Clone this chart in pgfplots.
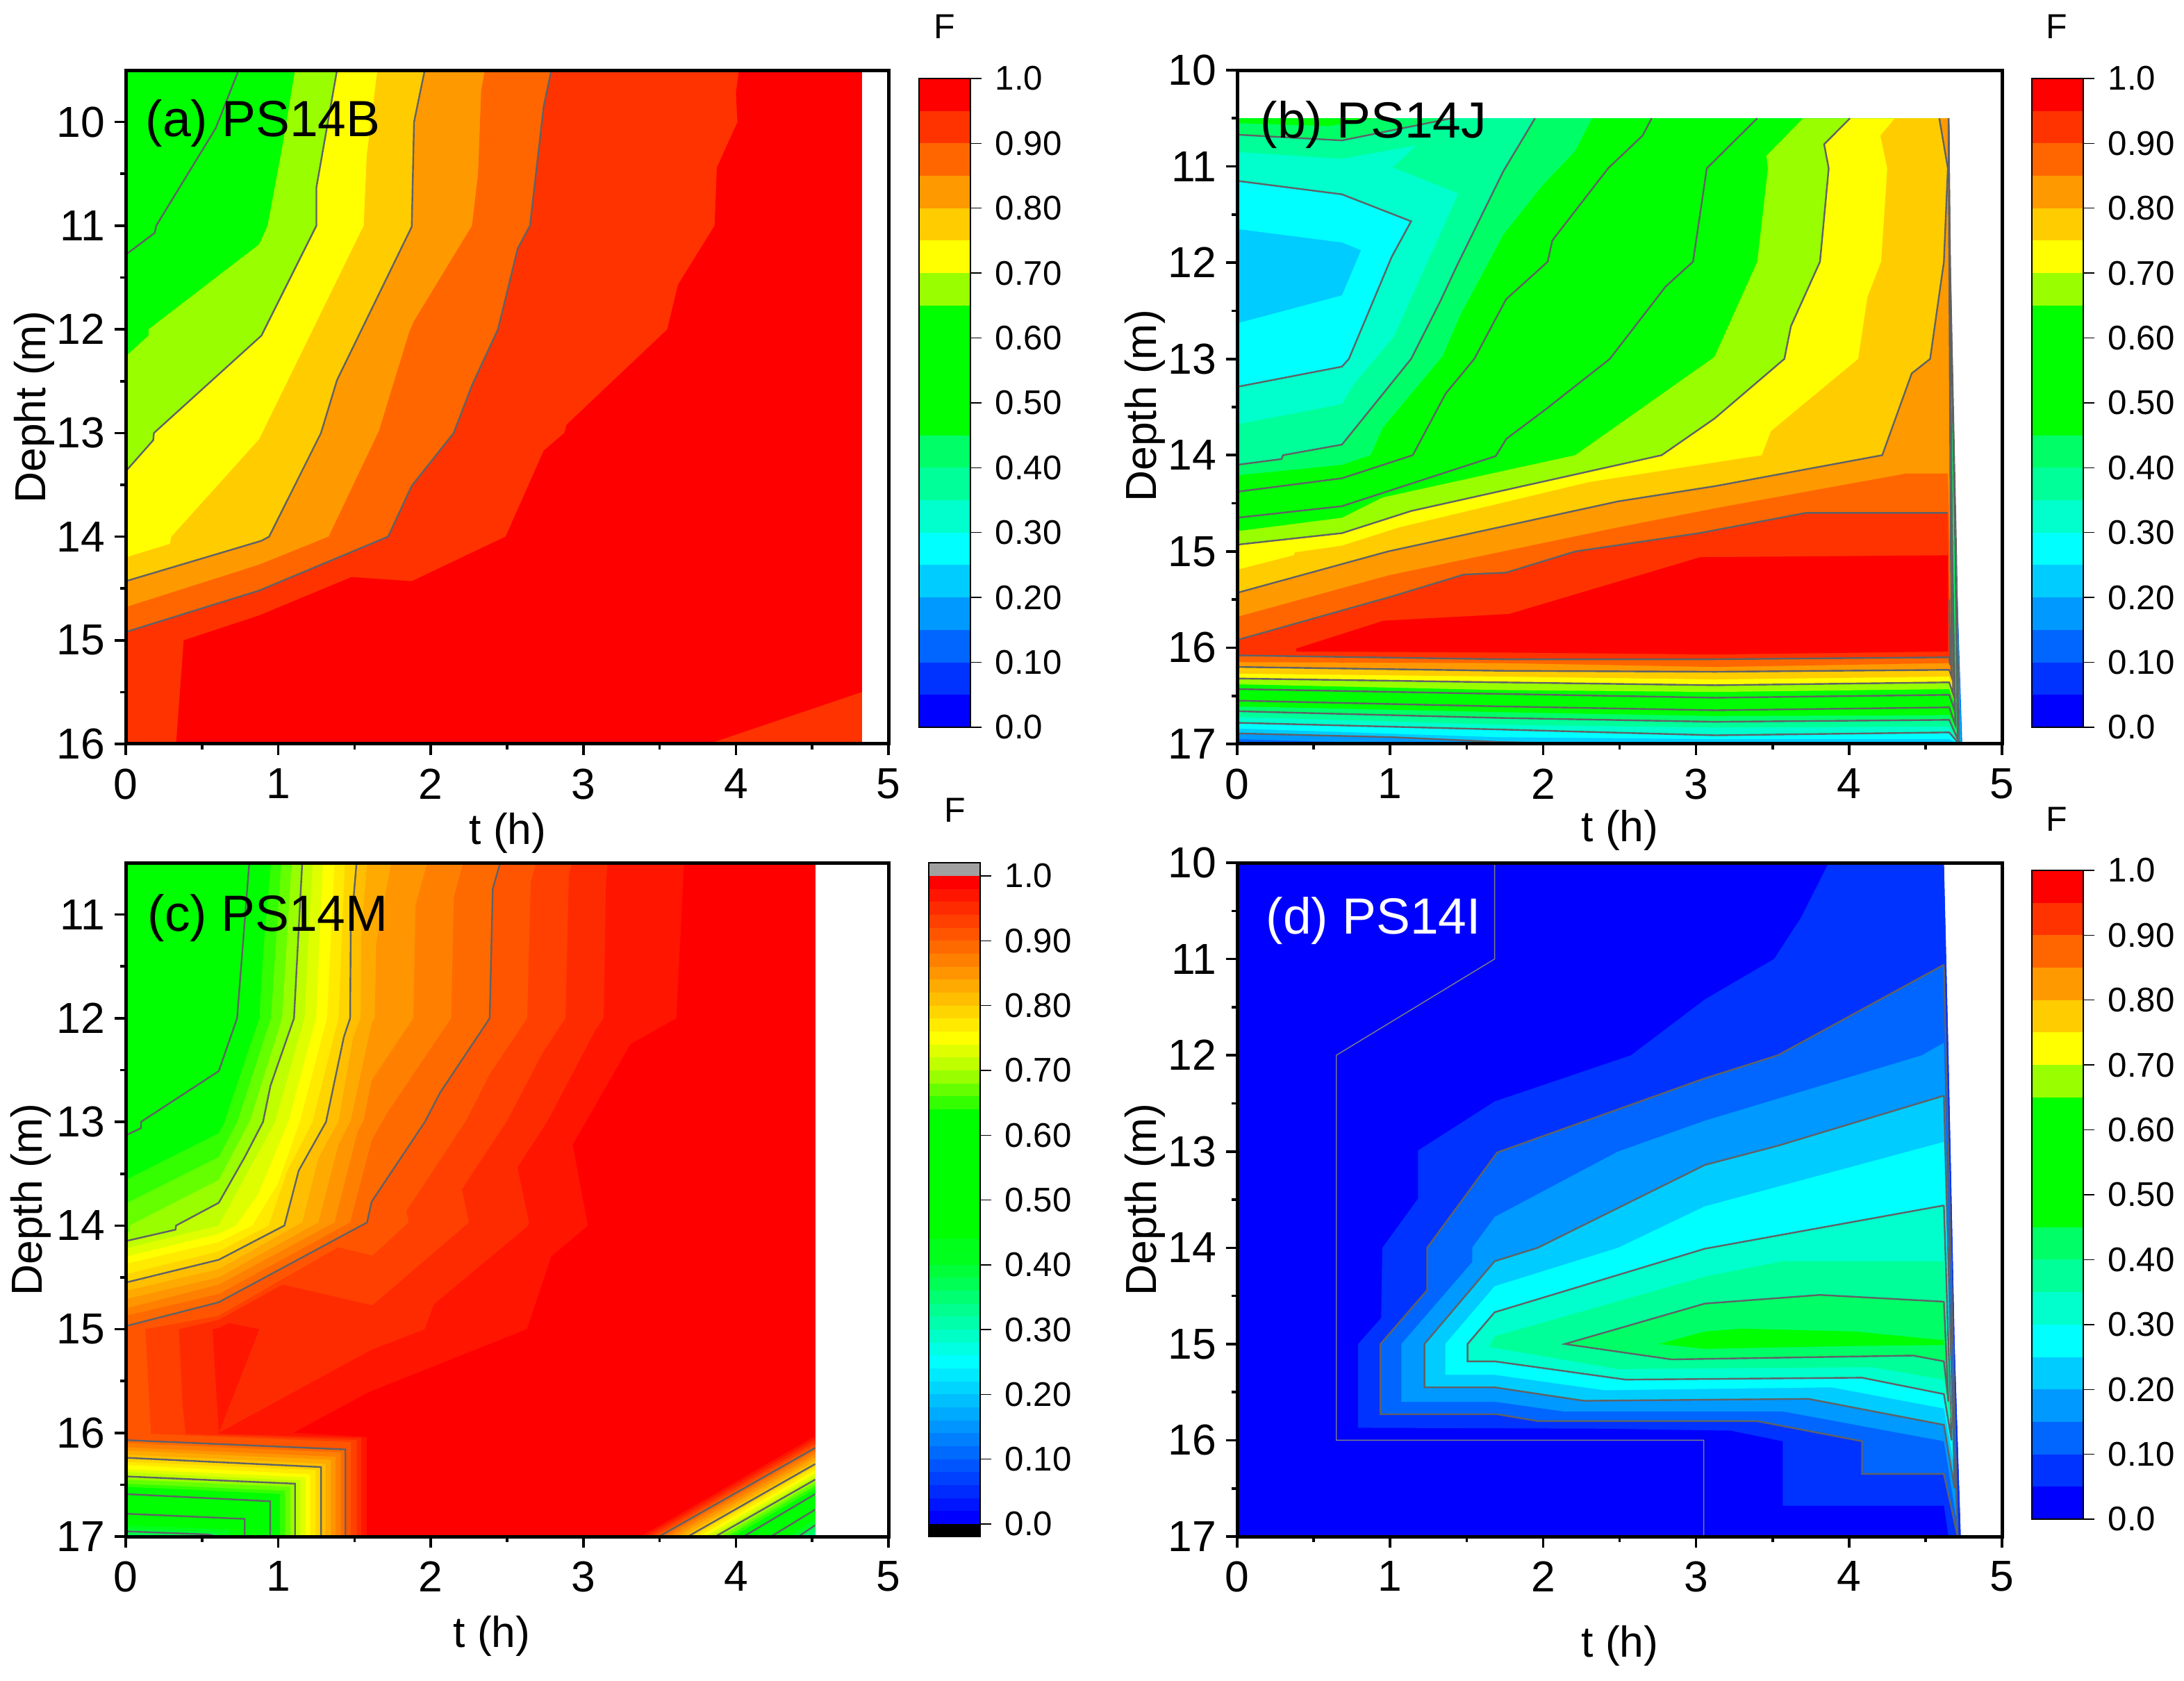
\documentclass[border=0pt]{standalone}
\usepackage{fontspec}
\setmainfont{Liberation Sans}
\usepackage{pgfplots}
\pgfplotsset{compat=1.18}
\def\dc#1{\definecolor{c#1}{HTML}{#1}}
\dc{0000FF}\dc{0015FF}\dc{002BFF}\dc{0033FF}\dc{0040FF}\dc{0055FF}\dc{0066FF}\dc{006AFF}\dc{0080FF}\dc{0095FF}\dc{0099FF}\dc{00AAFF}\dc{00BFFF}\dc{00CCFF}\dc{00D5FF}\dc{00EAFF}\dc{00FFFF}
\dc{00FFE3}\dc{00FFC6}\dc{00FFCC}\dc{00FFAA}\dc{00FF99}\dc{00FF8E}\dc{00FF80}\dc{00FF71}\dc{00FF66}\dc{00FF55}\dc{00FF4D}\dc{00FF39}\dc{00FF33}\dc{00FF1C}\dc{00FF1A}\dc{00FF00}
\dc{33FF00}\dc{66FF00}\dc{99FF00}\dc{BFFF00}\dc{DFFF00}\dc{FFFF00}\dc{FFEA00}\dc{FFD500}\dc{FFCC00}\dc{FFBF00}\dc{FFAA00}\dc{FF9900}\dc{FF9500}\dc{FF8000}\dc{FF6A00}\dc{FF6600}\dc{FF5500}\dc{FF4000}\dc{FF3300}\dc{FF2B00}\dc{FF1500}\dc{FF0000}\dc{A0A0A0}\dc{000000}
\definecolor{cline}{HTML}{606266}
\newcommand{\fs}[1]{\fontsize{#1}{#1}\selectfont}
% fill helpers
\newcommand{\levN}[2]{\addplot[fill=c#1,draw=none] coordinates {#2} -- cycle;}
\newcommand{\cl}[1]{\addplot[cline,line width=0.6pt] coordinates {#1};}
\newcommand{\levA}[3]{\addplot[fill=c#1,draw=none] coordinates {#2 #3} -- cycle;\cl{#2}}
\newcommand{\levT}[4]{\addplot[fill=c#1,draw=none] coordinates {#2 #3 #4} -- cycle;\cl{#2}\cl{#4}}
\newcommand{\band}[2]{\addplot[fill=c#2,draw=none] coordinates {(0,#1)(1,#1)(1,1.03)(0,1.03)} -- cycle;}
\newcommand{\stdbands}{\band{0}{0000FF}\band{0.05}{0033FF}\band{0.1}{0066FF}\band{0.15}{0099FF}\band{0.2}{00CCFF}\band{0.25}{00FFFF}\band{0.3}{00FFCC}\band{0.35}{00FF99}\band{0.4}{00FF66}\band{0.45}{00FF00}\band{0.65}{99FF00}\band{0.7}{FFFF00}\band{0.75}{FFCC00}\band{0.8}{FF9900}\band{0.85}{FF6600}\band{0.9}{FF3300}\band{0.95}{FF0000}}
\pgfplotsset{
 mainax/.style={scale only axis,width=274.5pt,height=242.5pt,xmin=0,xmax=5,y dir=reverse,
  xtick={0,1,2,3,4,5},minor x tick num=1,minor y tick num=1,xtick pos=bottom,ytick pos=left,tick align=outside,
  major tick length=3.9pt,minor tick length=1.9pt,every tick/.style={black,line width=0.9pt},
  axis line style={line width=1.25pt},axis on top=true,no markers,anchor=south west,
  /pgf/number format/assume math mode=true,
  tick label style={font=\fs{15.6}},
  xticklabel style={yshift=-1.5pt},yticklabel style={xshift=0pt}},
 barax/.style={scale only axis,width=18.5pt,anchor=south west,xmin=0,xmax=1,xtick=\empty,
  ytick={0,0.1,0.2,0.3,0.4,0.5,0.6,0.7,0.8,0.9,1},
  yticklabels={0.0,0.10,0.20,0.30,0.40,0.50,0.60,0.70,0.80,0.90,1.0},
  ytick pos=right,tick align=outside,major tick length=4pt,every tick/.style={black,line width=0.35pt},
  axis line style={line width=0.7pt},axis on top=true,no markers,
  yticklabel style={font=\fs{12.3},xshift=1.4pt,anchor=west}}
}
\begin{document}
\begin{tikzpicture}
\path[use as bounding box] (0,0) rectangle (786pt,604.75pt);
% ---------- (a)
\begin{axis}[mainax,at={({181*0.25pt},{(2419-1071)*0.25pt})},ymin=9.5,ymax=16,ytick={10,11,12,13,14,15,16}]
\levN{00FF00}{(0,9.5)(4.826,9.5)(4.826,16)(0,16)}
\cl{(0,11.28)(0.19,11.07)(0.20,11.0)(0.59,10.06)(0.74,9.5)}
\levN{99FF00}{(0,12.26)(0.15,12.06)(0.15,12.0)(0.875,11.18)(0.93,11.0)(1.03,10.21)(1.11,9.5)(4.826,9.5)(4.826,16)(0,16)}
\levA{FFFF00}{(0,13.37)(0.18,13.07)(0.185,13.0)(0.89,12.06)(1.25,11.0)(1.25,10.63)(1.385,9.5)}{(4.826,9.5)(4.826,16)(0,16)}
\levN{FFCC00}{(0,14.2)(0.29,14.07)(0.30,14.0)(0.875,13.06)(1.56,11.0)(1.58,10.32)(1.65,9.5)(4.826,9.5)(4.826,16)(0,16)}
\levA{FF9900}{(0,14.43)(0.89,14.04)(0.94,14.0)(1.28,13.0)(1.385,12.49)(1.875,11.01)(1.89,10.0)(1.96,9.5)}{(4.826,9.5)(4.826,16)(0,16)}
\levN{FF6600}{(0,14.68)(0.875,14.27)(1.33,14.0)(1.66,12.98)(1.86,12.02)(1.89,11.92)(2.27,11.0)(2.31,10.5)(2.33,9.69)(2.355,9.5)(4.826,9.5)(4.826,16)(0,16)}
\levA{FF3300}{(0,14.92)(0.875,14.52)(1.72,14.0)(1.875,13.51)(2.15,13.0)(2.27,12.54)(2.44,12.0)(2.57,11.22)(2.65,11.0)(2.74,9.85)(2.79,9.5)}{(4.826,9.5)(4.826,16)(0,16)}
\levN{FF0000}{(0.33,16)(0.38,15.0)(0.875,14.76)(1.48,14.39)(1.875,14.43)(2.49,14.0)(2.74,13.17)(2.875,13.0)(2.89,12.92)(3.55,12.0)(3.62,11.57)(3.86,11.0)(3.875,10.44)(4.01,10.0)(4.0,9.72)(4.02,9.5)(4.826,9.5)(4.826,16)}
\levN{FF3300}{(3.82,16)(4.826,15.5)(4.826,16)}
\end{axis}
% ---------- (b)
\begin{axis}[mainax,width=275.25pt,at={({1781*0.25pt},{(2419-1071)*0.25pt})},ymin=10,ymax=17,ytick={10,11,12,13,14,15,16,17}]
\levN{0066FF}{(0,10.5)(4.65,10.5)(4.66,12)(4.70,15)(4.74,17)(0,17)}
\levN{0099FF}{(0,10.5)(4.65,10.5)(4.66,12)(4.70,15)(4.735,17)(1.18,17)(0,16.95)}
\levA{00CCFF}{(0,16.89)(1.02,16.93)(1.72,16.98)(2.33,17)}{(4.73,17)(4.70,15)(4.66,12)(4.65,10.5)(0,10.5)}
\levN{00FFFF}{(0,10.5)(4.65,10.5)(4.66,12)(4.70,15)(4.725,17)(4.655,16.95)(3.125,16.95)(1.72,16.93)(0,16.84)(0,12.63)(0.685,12.34)(0.81,11.87)(0.685,11.79)(0,11.65)}
\levT{00FFCC}{(0,13.29)(0.685,13.08)(0.73,13)(1.01,11.94)(1.137,11.57)(0.685,11.29)(0,11.15)}{(0,10.5)}{(4.65,10.5)(4.66,12)(4.70,15)(4.72,17)(4.655,16.88)(3.125,16.91)(1.72,16.85)(0,16.78)}
\levN{00FF99}{(0,13.68)(0.685,13.47)(0.76,13.27)(1.024,12.77)(1.325,11.71)(1.446,11.28)(1.017,11.01)(1.175,10.78)(0.685,10.92)(0,10.85)(0,10.5)(4.65,10.5)(4.66,12)(4.70,15)(4.715,16.98)(4.655,16.82)(3.125,16.83)(1.72,16.80)(0,16.72)}
\levA{00FF66}{(0,10.67)(0.685,10.73)(1.137,10.585)(1.40,10.5)}{(0,10.5)}
\levN{00FF00}{(0,10.5)(0,10.55)(0.6,10.58)(0.9,10.5)}
\levT{00FF66}{(0,14.10)(0.29,14.04)(0.30,14)(0.685,13.89)(1.137,13)(1.325,12.41)(1.44,12.02)(1.74,11.05)(1.947,10.5)}{}{(4.65,10.5)(4.66,12)(4.695,15)(4.71,16.95)(4.655,16.75)(3.125,16.77)(1.72,16.73)(0,16.66)}
\levN{00FF00}{(0,14.21)(0.685,14.10)(0.873,14)(0.95,13.72)(1.344,12.97)(1.457,12.55)(1.74,11.71)(2.0,11.19)(2.21,10.84)(2.32,10.5)(4.65,10.5)(4.655,12)(4.68,15)(4.70,16.85)(4.655,16.70)(3.125,16.71)(1.72,16.67)(0,16.61)}
\cl{(0,14.38)(0.685,14.24)(1.148,14)(1.363,13.36)(1.55,13)(1.758,12.38)(2.03,11.99)(2.06,11.77)(2.425,11.02)(2.65,10.68)(2.71,10.5)}
\cl{(4.65,10.5)(4.655,12)(4.675,15)(4.695,16.80)(4.655,16.62)(3.125,16.65)(1.72,16.61)(0,16.55)}
\cl{(0,14.65)(0.685,14.53)(1.69,14.01)(1.76,13.83)(2.02,13.52)(2.436,13)(2.80,12.25)(2.98,11.99)(3.07,11.02)(3.40,10.5)}
\cl{(4.65,10.5)(4.655,12)(4.67,15)(4.69,16.65)(4.655,16.49)(3.125,16.52)(1.72,16.48)(0,16.43)}
\levN{99FF00}{(0,14.79)(0.685,14.65)(0.95,14.44)(1.664,14.19)(2.21,14)(3.12,12.98)(3.40,11.99)(3.47,11.02)(3.46,10.89)(3.70,10.5)(4.65,10.5)(4.655,12)(4.67,15)(4.685,16.55)(4.655,16.43)(3.125,16.46)(1.72,16.44)(0,16.38)}
\levT{FFFF00}{(0,14.93)(0.685,14.81)(1.137,14.58)(2.775,14)(3.12,13.62)(3.577,13)(3.62,12.66)(3.81,11.99)(3.867,11.02)(3.837,10.77)(4.006,10.5)}{}{(4.65,10.5)(4.655,12)(4.67,15)(4.68,16.48)(4.655,16.36)(3.125,16.39)(1.72,16.36)(0,16.32)}
\levN{FFCC00}{(0,15.19)(0.37,15.04)(0.377,15.01)(0.685,14.94)(1.06,14.75)(2.30,14.28)(3.43,14)(3.49,13.75)(4.06,13)(4.12,12.36)(4.21,11.99)(4.25,11.02)(4.205,10.68)(4.30,10.5)(4.65,10.5)(4.655,12)(4.668,15)(4.675,16.4)(4.655,16.30)(3.125,16.33)(1.72,16.30)(0,16.27)}
\levT{FF9900}{(0,15.43)(0.986,15)(2.49,14.48)(3.13,14.32)(4.217,14)(4.41,13.15)(4.53,13)(4.62,11.99)(4.646,11.02)(4.59,10.5)}{}{(4.65,10.5)(4.655,12)(4.665,15)(4.67,16.3)(4.655,16.23)(3.125,16.25)(1.72,16.24)(0,16.20)}
\levN{FF6600}{(0,15.68)(0.986,15.25)(2.49,14.75)(3.13,14.55)(4.375,14.19)(4.646,14.19)(4.66,15)(4.665,16.25)(4.655,16.16)(3.125,16.20)(1.72,16.16)(0,16.15)}
\levT{FF3300}{(0,15.92)(1.005,15.47)(1.483,15.24)(1.758,15.22)(2.21,15)(3.02,14.81)(3.716,14.6)(4.646,14.6)}{}{(4.655,15.5)(4.66,16.18)(4.655,16.10)(3.125,16.12)(1.72,16.12)(0,16.08)}
\levN{FF0000}{(0.384,16.01)(0.956,15.72)(1.777,15.65)(3.027,15.06)(4.646,15.04)(4.646,16.04)(3.125,16.07)(1.72,16.05)(0.384,16.04)}
\end{axis}
% ---------- (c)
\begin{axis}[mainax,at={({181*0.25pt},{(2419-2212)*0.25pt})},ymin=10.5,ymax=17,ytick={11,12,13,14,15,16,17}]
\levN{00FF00}{(0,10.5)(4.52,10.5)(4.52,17)(0,17)}
\cl{(0,13.13)(0.1,13.06)(0.1,13)(0.61,12.51)(0.73,12)(0.81,10.5)}
\levN{33FF00}{(0,13.56)(0.61,13.11)(0.648,13)(0.876,12)(0.906,11.27)(0.952,10.5)(4.52,10.5)(4.52,17)(0,17)}
\levN{66FF00}{(0,13.79)(0.61,13.34)(0.732,13)(0.952,12)(1.02,10.5)(4.52,10.5)(4.52,17)(0,17)}
\levN{99FF00}{(0,14.07)(0.026,14.06)(0.026,14.0)(0.61,13.56)(0.815,12.99)(1.025,12)(1.088,10.5)(4.52,10.5)(4.52,17)(0,17)}
\levA{BFFF00}{(0,14.15)(0.326,14.04)(0.33,14.0)(0.61,13.78)(0.78,13.34)(0.90,13)(0.949,12.65)(1.103,12)(1.157,10.5)}{(4.52,10.5)(4.52,17)(0,17)}
\levN{DFFF00}{(0,14.22)(0.61,14)(0.979,13)(1.172,12)(1.225,10.5)(4.52,10.5)(4.52,17)(0,17)}
\levN{FFFF00}{(0,14.30)(0.61,14.08)(0.724,14)(0.868,13.7)(1.066,13)(1.248,12)(1.293,10.5)(4.52,10.5)(4.52,17)(0,17)}
\levN{FFEA00}{(0,14.37)(0.61,14.16)(0.83,14)(0.997,13.6)(1.141,13)(1.32,12)(1.369,10.5)(4.52,10.5)(4.52,17)(0,17)}
\levN{FFD500}{(0,14.47)(0.61,14.25)(0.937,14)(1.058,13.48)(1.225,13)(1.395,12)(1.437,10.5)(4.52,10.5)(4.52,17)(0,17)}
\levA{FFBF00}{(0,14.55)(0.61,14.33)(1.04,14)(1.134,13.47)(1.313,13)(1.43,12.18)(1.471,12)(1.475,11.16)(1.513,10.5)}{(4.52,10.5)(4.52,17)(0,17)}
\levN{FFAA00}{(0,14.63)(0.61,14.42)(1.157,13.97)(1.263,13.35)(1.395,12.99)(1.491,12.18)(1.54,12)(1.544,11.16)(1.582,10.5)(4.52,10.5)(4.52,17)(0,17)}
\levN{FF9500}{(0,14.71)(0.61,14.50)(1.263,13.97)(1.395,13.22)(1.475,12.99)(1.612,12.05)(1.632,12)(1.642,11.27)(1.741,10.5)(4.52,10.5)(4.52,17)(0,17)}
\levN{FF8000}{(0,14.80)(0.61,14.57)(1.369,13.97)(1.521,13.09)(1.559,12.99)(1.612,12.6)(1.885,12)(1.9,10.91)(1.977,10.5)(4.52,10.5)(4.52,17)(0,17)}
\levN{FF6A00}{(0,14.87)(0.61,14.66)(1.471,13.97)(1.612,13.18)(1.711,12.92)(2.133,12)(2.151,10.83)(2.212,10.5)(4.52,10.5)(4.52,17)(0,17)}
\levA{FF5500}{(0,14.97)(0.61,14.74)(1.582,13.97)(1.612,13.77)(1.961,13)(2.06,12.72)(2.386,12)(2.406,10.75)(2.455,10.5)}{(4.52,10.5)(4.52,17)(0,17)}
\levN{FF4000}{(0.166,17)(0.166,16)(0.155,15.71)(0.129,15)(0.61,14.87)(1.392,14.21)(1.617,14.29)(1.855,13.97)(1.84,13.86)(2.235,12.98)(2.386,12.54)(2.632,12)(2.655,10.69)(2.69,10.5)(4.52,10.5)(4.52,17)}
\levN{FF2B00}{(0.392,17)(0.392,16)(0.372,15.71)(0.348,15)(0.61,14.91)(1.028,14.57)(1.617,14.77)(2.25,13.97)(2.204,13.65)(2.5,12.99)(2.735,12.33)(2.883,12)(2.905,10.62)(2.925,10.5)(4.52,10.5)(4.52,17)}
\levN{FF1500}{(0.61,17)(0.61,16)(1.61,15.2)(1.96,15)(2.02,14.76)(2.64,14)(2.644,13.97)(2.568,13.44)(2.766,12.99)(3.077,12.12)(3.133,12)(3.148,10.69)(3.16,10.5)(4.52,10.5)(4.52,17)}
\levN{FF1500}{(0.569,15)(0.61,14.99)(0.678,14.94)(0.876,15)(0.61,16)}
\levN{FF0000}{(1.10,17)(1.10,16)(1.59,15.61)(2.63,15)(2.79,14.3)(3.03,14)(2.93,13.22)(3.31,12.25)(3.61,12)(3.66,10.5)(4.52,10.5)(4.52,17)}
% lower left corner
\levN{FF1500}{(0.61,16)(1.10,16)(1.58,16.04)(1.58,17)(0.61,17)}
\levN{FF2B00}{(0.392,16)(1.545,16.05)(1.545,17)(0.392,17)}
\levN{FF4000}{(0.166,16)(1.515,16.07)(1.515,17)(0.166,17)}
\levN{FF5500}{(0,16)(1.476,16.09)(1.476,17)(0,17)}
\levA{FF6A00}{(0,16.07)(1.44,16.16)(1.44,17)}{(0,17)}
\levN{FF8000}{(0,16.10)(1.41,16.19)(1.41,17)(0,17)}
\levN{FF9500}{(0,16.14)(1.375,16.23)(1.375,17)(0,17)}
\levN{FFAA00}{(0,16.17)(1.345,16.26)(1.345,17)(0,17)}
\levN{FFBF00}{(0,16.21)(1.31,16.30)(1.31,17)(0,17)}
\levA{FFD500}{(0,16.24)(1.28,16.33)(1.28,17)}{(0,17)}
\levN{FFEA00}{(0,16.28)(1.245,16.36)(1.245,17)(0,17)}
\levN{FFFF00}{(0,16.31)(1.21,16.40)(1.21,17)(0,17)}
\levN{DFFF00}{(0,16.35)(1.18,16.43)(1.18,17)(0,17)}
\levN{BFFF00}{(0,16.38)(1.145,16.46)(1.145,17)(0,17)}
\levA{99FF00}{(0,16.42)(1.11,16.49)(1.11,17)}{(0,17)}
\levN{66FF00}{(0,16.45)(1.08,16.52)(1.08,17)(0,17)}
\levN{33FF00}{(0,16.49)(1.045,16.56)(1.045,17)(0,17)}
\levN{00FF00}{(0,16.52)(1.01,16.59)(1.01,17)(0,17)}
\cl{(0,16.59)(0.947,16.66)(0.947,17)}
\cl{(0,16.78)(0.78,16.83)(0.78,17)}
\levN{00FF1A}{(0,16.89)(0.68,16.93)(0.68,17)(0,17)}
\levN{00FF33}{(0,16.92)(0.6,16.96)(0.6,17)(0,17)}
\levA{00FF4D}{(0,16.95)(0.54,16.98)(0.6,17)}{(0,17)}
% lower right corner
\levN{FF1500}{(3.375,17)(4.52,16.03)(4.52,17)}
\levN{FF2B00}{(3.405,17)(4.52,16.06)(4.52,17)}
\levN{FF4000}{(3.435,17)(4.52,16.09)(4.52,17)}
\levN{FF5500}{(3.465,17)(4.52,16.115)(4.52,17)}
\levA{FF6A00}{(3.496,17)(4.52,16.145)}{(4.52,17)}
\levN{FF8000}{(3.534,17)(4.52,16.176)(4.52,17)}
\levN{FF9500}{(3.572,17)(4.52,16.207)(4.52,17)}
\levN{FFAA00}{(3.61,17)(4.52,16.238)(4.52,17)}
\levN{FFBF00}{(3.647,17)(4.52,16.269)(4.52,17)}
\levA{FFD500}{(3.685,17)(4.52,16.30)}{(4.52,17)}
\levN{FFEA00}{(3.72,17)(4.52,16.33)(4.52,17)}
\levN{FFFF00}{(3.757,17)(4.52,16.36)(4.52,17)}
\levN{DFFF00}{(3.793,17)(4.52,16.39)(4.52,17)}
\levN{BFFF00}{(3.829,17)(4.52,16.42)(4.52,17)}
\levA{99FF00}{(3.865,17)(4.52,16.45)}{(4.52,17)}
\levN{66FF00}{(3.90,17)(4.52,16.48)(4.52,17)}
\levN{33FF00}{(3.94,17)(4.52,16.51)(4.52,17)}
\levN{00FF00}{(3.98,17)(4.52,16.54)(4.52,17)}
\cl{(4.05,17)(4.52,16.59)}
\cl{(4.23,17)(4.52,16.74)}
\levN{00FF1A}{(4.34,17)(4.52,16.83)(4.52,17)}
\levN{00FF33}{(4.38,17)(4.52,16.86)(4.52,17)}
\levA{00FF4D}{(4.41,17)(4.52,16.89)}{(4.52,17)}
\levN{00FF66}{(4.44,17)(4.52,16.92)(4.52,17)}
\levN{00FF80}{(4.47,17)(4.52,16.95)(4.52,17)}
\end{axis}
% ---------- (d)
\begin{axis}[mainax,width=275.25pt,at={({1781*0.25pt},{(2419-2212)*0.25pt})},ymin=10,ymax=17,ytick={10,11,12,13,14,15,16,17}]
\levN{0000FF}{(0,10)(4.62,10)(4.65,12)(4.69,15)(4.73,17)(0,17)}
\addplot[color=gray,line width=0.35pt] coordinates {(1.683,10)(1.683,11)(0.648,12)(0.648,16)(3.05,16)(3.05,17)};
\levN{0033FF}{(3.867,10)(3.686,10.57)(3.51,11)(3.057,11.42)(2.575,12)(1.683,12.48)(1.182,12.99)(1.182,13.49)(0.949,14)(0.941,14.73)(0.79,15)(0.79,15.87)(2.417,15.88)(3.227,15.9)(3.566,16.01)(3.566,16.68)(4.62,16.68)(4.65,17)(4.73,17)(4.69,15)(4.65,12)(4.62,10)}
\levA{0066FF}{(4.62,11.06)(3.535,12)(3.057,12.24)(1.70,13.01)(1.242,14)(1.242,14.44)(0.937,15)(0.937,15.73)(1.70,15.73)(1.965,15.80)(3.396,15.80)(4.085,16.01)(4.085,16.35)(4.62,16.35)(4.71,17)(4.62,11.06)}{}
\levN{0099FF}{(4.62,11.87)(4.477,12)(3.057,12.68)(2.49,13)(1.683,13.68)(1.536,14)(1.536,14.15)(1.073,15)(1.073,15.6)(1.683,15.6)(2.135,15.7)(3.566,15.7)(4.62,16.01)(4.70,16.8)}
\levA{00CCFF}{(4.62,12.42)(3.535,12.94)(3.057,13.14)(1.965,14)(1.683,14.14)(1.224,15)(1.224,15.45)(1.683,15.45)(2.267,15.59)(3.735,15.57)(4.62,15.84)(4.69,16.5)(4.62,12.42)}{}
\levN{00FFFF}{(4.62,12.9)(3.057,13.57)(2.49,14)(1.683,14.40)(1.36,15)(1.36,15.32)(1.683,15.32)(2.40,15.48)(3.886,15.45)(4.62,15.67)(4.68,16.2)}
\levA{00FFCC}{(4.62,13.56)(3.057,14.01)(1.683,14.67)(1.506,15)(1.506,15.18)(1.683,15.18)(2.54,15.37)(4.085,15.35)(4.62,15.52)(4.67,16)(4.62,13.56)}{}
\levN{00FF99}{(4.62,14.14)(3.566,14.14)(3.057,14.30)(1.683,14.92)(1.645,15.03)(2.49,15.26)(4.15,15.24)(4.62,15.37)(4.665,15.8)}
\levA{00FF66}{(4.62,14.56)(3.81,14.49)(3.057,14.58)(2.142,15)(2.84,15.16)(4.42,15.12)(4.62,15.18)(4.65,15.6)(4.62,14.56)}{}
\levN{00FF00}{(4.62,14.96)(4.036,14.87)(3.30,14.84)(3.057,14.87)(2.756,15)(3.057,15.05)(4.036,15.02)(4.62,15.01)}
\end{axis}
% ---------- colour bars
\begin{axis}[barax,height=233.5pt,at={({1323*0.25pt},{(2419-1047)*0.25pt})},ymin=0,ymax=1]
\stdbands
\end{axis}
\begin{axis}[barax,height=233.5pt,at={({2925*0.25pt},{(2419-1047)*0.25pt})},ymin=0,ymax=1]
\stdbands
\end{axis}
\begin{axis}[barax,height=233.5pt,at={({2925*0.25pt},{(2419-2187)*0.25pt})},ymin=0,ymax=1]
\stdbands
\end{axis}
\begin{axis}[barax,height=242.5pt,at={({1337*0.25pt},{(2419-2212)*0.25pt})},ymin=-0.0193,ymax=1.0204]
\addplot[fill=c000000,draw=none] coordinates {(0,-0.03)(1,-0.03)(1,0)(0,0)} -- cycle;
\band{0}{0000FF}\band{0.02}{0015FF}\band{0.04}{002BFF}\band{0.06}{0040FF}\band{0.08}{0055FF}\band{0.10}{006AFF}\band{0.12}{0080FF}\band{0.14}{0095FF}\band{0.16}{00AAFF}\band{0.18}{00BFFF}\band{0.20}{00D5FF}\band{0.22}{00EAFF}\band{0.24}{00FFFF}\band{0.26}{00FFE3}\band{0.28}{00FFC6}\band{0.30}{00FFAA}\band{0.32}{00FF8E}\band{0.34}{00FF71}\band{0.36}{00FF55}\band{0.38}{00FF39}\band{0.40}{00FF1C}\band{0.42}{00FF1A}\band{0.44}{00FF00}\band{0.64}{33FF00}\band{0.66}{66FF00}\band{0.68}{99FF00}\band{0.70}{BFFF00}\band{0.72}{DFFF00}\band{0.74}{FFFF00}\band{0.76}{FFEA00}\band{0.78}{FFD500}\band{0.80}{FFBF00}\band{0.82}{FFAA00}\band{0.84}{FF9500}\band{0.86}{FF8000}\band{0.88}{FF6A00}\band{0.90}{FF5500}\band{0.92}{FF4000}\band{0.94}{FF2B00}\band{0.96}{FF1500}\band{0.98}{FF0000}\band{1.0}{A0A0A0}
\end{axis}
% ---------- texts
\newcommand{\tx}[4]{\node[font=\fs{#3},inner sep=0pt,#4] at ({#1*0.25pt},{(2419-#2)*0.25pt})}
\tx{1360}{38}{12.5}{}{F};
\tx{2961}{38}{12.5}{}{F};
\tx{1375}{1166}{12.5}{}{F};
\tx{2961}{1179}{12.5}{}{F};
\tx{731}{1199}{15.6}{}{t (h)};
\tx{2332}{1195}{15.6}{}{t (h)};
\tx{708}{2355}{15.6}{}{t (h)};
\tx{2332}{2369}{15.6}{}{t (h)};
\tx{49}{586}{15.6}{rotate=90}{Depht (m)};
\tx{1648}{584}{15.6}{rotate=90}{Depth (m)};
\tx{44}{1727}{15.6}{rotate=90}{Depth (m)};
\tx{1648}{1727}{15.6}{rotate=90}{Depth (m)};
\tx{209}{178}{18.3}{anchor=west}{(a) PS14B};
\tx{1814}{180}{18.3}{anchor=west}{(b) PS14J};
\tx{212}{1322}{18.3}{anchor=west}{(c) PS14M};
\tx{1822}{1326}{18.3}{anchor=west,text=white}{(d) PS14I};
\end{tikzpicture}
\end{document}
